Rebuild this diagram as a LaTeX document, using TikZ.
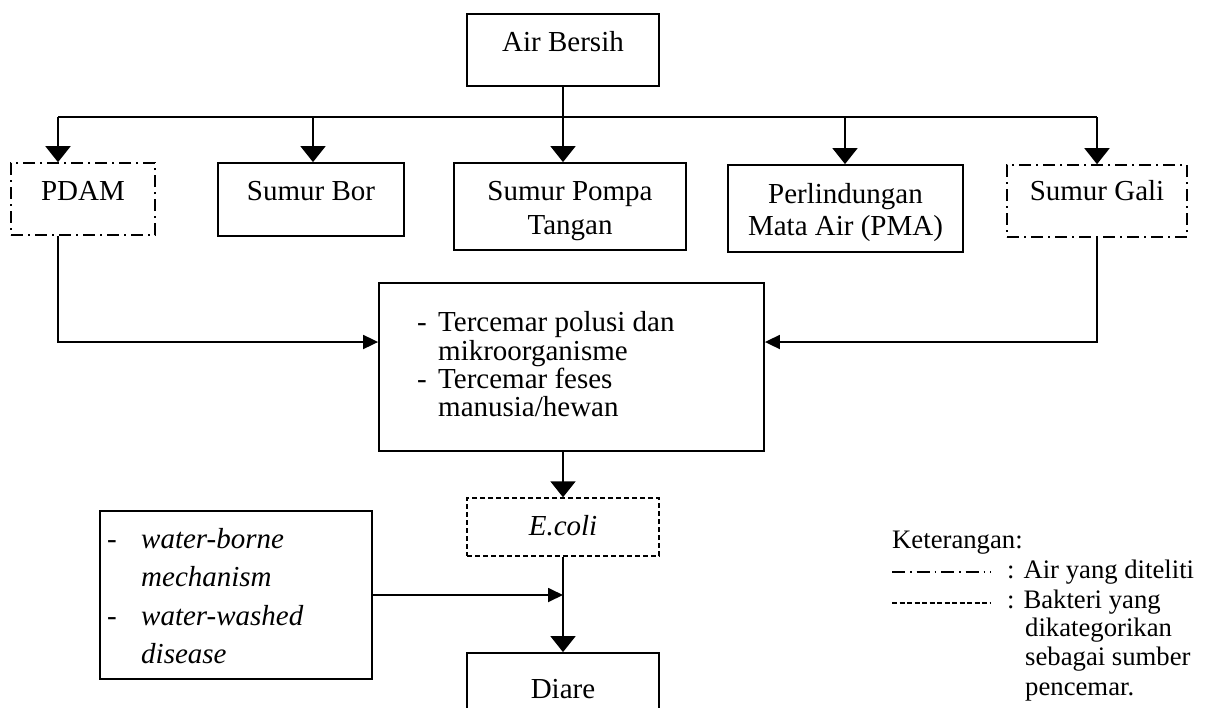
\documentclass[tikz,border=0pt]{standalone}
\usepackage{fontspec}
\setmainfont{Liberation Serif}
\usetikzlibrary{arrows.meta}
\begin{document}
\begin{tikzpicture}[x=1pt,y=1pt,
  box/.style={draw, line width=1.8pt, inner sep=0pt},
  dashdot/.style={draw, line width=1.6pt, inner sep=0pt, dash pattern=on 12pt off 5pt on 2pt off 5pt},
  dashbox/.style={draw, line width=1.4pt, inner sep=0pt, dash pattern=on 5pt off 3pt},
  txt/.style={inner sep=0pt, anchor=base, font=\fontsize{29}{33}\selectfont},
  ltxt/.style={inner sep=0pt, anchor=base west, font=\fontsize{29}{33}\selectfont},
  leg/.style={inner sep=0pt, anchor=base west, font=\fontsize{26.7}{30}\selectfont},
  conn/.style={line width=1.8pt},
  bigarr/.style={conn, -{Triangle[width=25pt,length=16pt]}},
  smallarr/.style={conn, -{Triangle[width=14pt,length=15pt]}},
]
\useasboundingbox (0,0) rectangle (1209,-707);
\clip (0,0) rectangle (1209,-707);

% boxes
\node[box, minimum width=192pt, minimum height=72pt] (air) at (563,-50) {};
\node[dashdot, minimum width=144pt, minimum height=72pt] (pdam) at (83,-199) {};
\node[box, minimum width=186pt, minimum height=73pt] (bor) at (311,-199.5) {};
\node[box, minimum width=232pt, minimum height=87pt] (pompa) at (570,-206.5) {};
\node[box, minimum width=235pt, minimum height=87pt] (pma) at (845.5,-208.5) {};
\node[dashdot, minimum width=180pt, minimum height=72pt] (gali) at (1097,-201) {};
\node[box, minimum width=385pt, minimum height=168pt] (cen) at (571.5,-367) {};
\node[dashbox, minimum width=192pt, minimum height=58pt] (ecoli) at (563,-527) {};
\node[box, minimum width=192pt, minimum height=82pt] (diare) at (563,-694) {};
\node[box, minimum width=272pt, minimum height=168pt] (left) at (236,-595) {};

% texts
\node[txt] (airT) at (563,-51) {Air Bersih};
\node[txt] (pdamT) at (83,-200) {PDAM};
\node[txt] (borT) at (311,-200) {Sumur Bor};
\node[txt] (pompaT1) at (570,-200) {Sumur Pompa};
\node[txt] (pompaT2) at (570,-234) {Tangan};
\node[txt] (pmaT1) at (845.5,-203) {Perlindungan};
\node[txt] (pmaT2) at (845.5,-235) {Mata Air (PMA)};
\node[txt] (galiT) at (1097,-200) {Sumur Gali};
\node[ltxt] (c1) at (417,-331) {\makebox[21pt][l]{-}Tercemar polusi dan};
\node[ltxt] (c2) at (438,-360) {mikroorganisme};
\node[ltxt] (c3) at (417,-388) {\makebox[21pt][l]{-}Tercemar feses};
\node[ltxt] (c4) at (438,-416) {manusia/hewan};
\node[txt] (ecoliT) at (563,-535) {\textit{E.coli}};
\node[txt] (diareT) at (563,-698) {Diare};
\node[ltxt] (l1) at (107,-548) {\makebox[34pt][l]{-}\textit{water-borne}};
\node[ltxt] (l2) at (141,-586) {\textit{mechanism}};
\node[ltxt] (l3) at (107,-625) {\makebox[34pt][l]{-}\textit{water-washed}};
\node[ltxt] (l4) at (141,-663) {\textit{disease}};

% legend
\node[leg] (k0) at (892,-548) {Keterangan:};
\coordinate (la1) at (892,-572);
\coordinate (lb1) at (991,-572);
\coordinate (la2) at (892,-603);
\coordinate (lb2) at (991,-603);
\draw[line width=1.6pt, dash pattern=on 13pt off 5pt on 1.5pt off 5pt] (la1) -- (lb1);
\draw[line width=1.2pt, dash pattern=on 5pt off 2.5pt] (la2) -- (lb2);
\node[leg] (k1) at (1007,-578) {: Air yang diteliti};
\node[leg] (k2) at (1007,-608) {: Bakteri yang};
\node[leg] (k3) at (1025,-636) {dikategorikan};
\node[leg] (k4) at (1025,-665) {sebagai sumber};
\node[leg] (k5) at (1025,-695) {pencemar.};

% connectors
\coordinate (bL) at (58,-117);
\coordinate (bB) at (313,-117);
\coordinate (bP) at (563,-117);
\coordinate (bM) at (845,-117);
\coordinate (bR) at (1097,-117);
\draw[conn] (air.south) -- (air.south |- bL);
\draw[conn] (bL) -- (bR);
\draw[bigarr] (bL) -- (bL |- pdam.north);
\draw[bigarr] (bB) -- (bB |- bor.north);
\draw[bigarr] (bP) -- (bP |- pompa.north);
\draw[bigarr] (bM) -- (bM |- pma.north);
\draw[bigarr] (bR) -- (bR |- gali.north);
\draw[smallarr] (bL |- pdam.south) |- ([yshift=25pt]cen.west);
\draw[smallarr] (bR |- gali.south) |- ([yshift=25pt]cen.east);
\draw[bigarr] (bP |- cen.south) -- (bP |- ecoli.north);
\draw[bigarr] (bP |- ecoli.south) -- (bP |- diare.north);
\draw[smallarr] (left.east) -- (bP |- left.east);
\end{tikzpicture}
\end{document}
